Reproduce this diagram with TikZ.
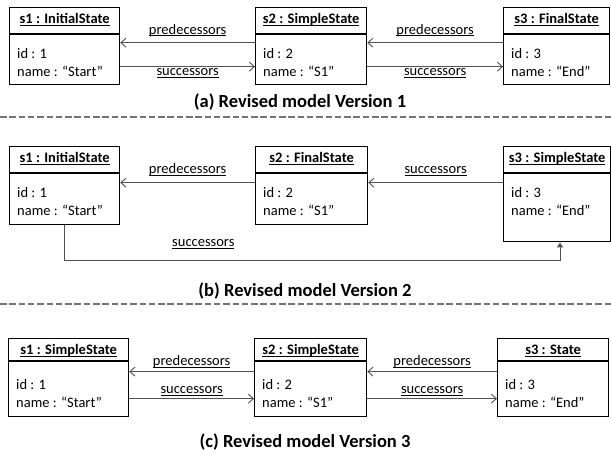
\documentclass[tikz,border=0pt]{standalone}
\usepackage{fontspec}
\setmainfont{Carlito}
\usetikzlibrary{arrows.meta}
\newcommand\ulx[1]{\underline{\smash{#1}}}
\newcommand\umlobj[8]{%
  \node[objbox, minimum width=#3pt, minimum height=#4pt] (#1) at #2 {};
  \draw[hdrline] ([yshift=-#5pt]#1.north west) -- ([yshift=-#5pt]#1.north east);
  \node[ttl] (#1t) at ([yshift=-16.5pt]#1.north) {\ulx{#6}};
  \node[attr] (#1i) at ([xshift=8pt,yshift=-51.5pt]#1.north west) {id : #7};
  \node[attr] (#1n) at ([xshift=8pt,yshift=-69.5pt]#1.north west) {name : #8};
}
\begin{document}
\begin{tikzpicture}[x=1pt,y=-1pt,
  font=\fontsize{14.5}{17}\selectfont,
  objbox/.style={draw, line width=1.3pt, inner sep=0pt, anchor=north west},
  hdrline/.style={line width=1.3pt},
  ttl/.style={font=\fontsize{14.5}{17}\selectfont\bfseries, anchor=base, inner sep=0pt},
  attr/.style={anchor=base west, inner sep=0pt},
  conn/.style={draw=black!68, line width=0.9pt},
  openarr/.style={-{Straight Barb[length=5pt,width=9pt]}},
  lbl/.style={anchor=base, inner sep=0pt},
  captxt/.style={font=\fontsize{18.5}{21}\selectfont\bfseries, anchor=base, inner sep=0pt},
  divider/.style={draw=black!55, line width=2pt, dash pattern=on 6.5pt off 2.8pt}
]
\useasboundingbox (0,0) rectangle (611,454);
% ---------- (a)
\umlobj{s1a}{(9,7)}{110}{77}{27}{s1 : InitialState}{1}{“Start”}
\umlobj{s2a}{(255,7)}{111}{77}{27}{s2 : SimpleState}{2}{“S1”}
\umlobj{s3a}{(503,7)}{106}{77}{27}{s3 : FinalState}{3}{“End”}
\draw[conn,openarr] ([yshift=3.5pt]s2a.west) -- node[lbl,yshift=8.5pt]{\ulx{predecessors}} ([yshift=3.5pt]s1a.east);
\draw[conn,openarr] ([yshift=-20.5pt]s1a.east) -- node[lbl,yshift=-9pt]{\ulx{successors}} ([yshift=-20.5pt]s2a.west);
\draw[conn,openarr] ([yshift=3.5pt]s3a.west) -- node[lbl,yshift=8.5pt]{\ulx{predecessors}} ([yshift=3.5pt]s2a.east);
\draw[conn,openarr] ([yshift=-20.5pt]s2a.east) -- node[lbl,yshift=-9pt]{\ulx{successors}} ([yshift=-20.5pt]s3a.west);
\node[captxt] (capa) at (300,108) {(a) Revised model Version 1};
\draw[divider] (0,117) -- (611,117);
% ---------- (b)
\umlobj{s1b}{(9,146)}{110}{78}{27}{s1 : InitialState}{1}{“Start”}
\umlobj{s2b}{(255,146)}{112}{78}{27}{s2 : FinalState}{2}{“S1”}
\umlobj{s3b}{(503,146)}{107}{95}{27}{s3 : SimpleState}{3}{“End”}
\draw[conn,openarr] ([yshift=3pt]s2b.west) -- node[lbl,yshift=9pt]{\ulx{predecessors}} ([yshift=3pt]s1b.east);
\draw[conn,openarr] ([yshift=11.5pt]s3b.west) -- node[lbl,yshift=9pt]{\ulx{successors}} ([yshift=3pt]s2b.east);
\coordinate (bendb) at (560,260);
\draw[conn,-{Latex[length=5pt,width=7pt]}] (s1b.south) |- node[lbl,pos=0.64,yshift=13pt]{\ulx{successors}} (bendb) -- (bendb |- s3b.south);
\node[captxt] (capb) at (305,297) {(b) Revised model Version 2};
\draw[divider] (0,304) -- (611,304);
% ---------- (c)
\umlobj{s1c}{(8,338)}{120}{78}{23}{s1 : SimpleState}{1}{“Start”}
\umlobj{s2c}{(254,338)}{112}{78}{23}{s2 : SimpleState}{2}{“S1”}
\umlobj{s3c}{(497,338)}{111}{78}{23}{s3 : State}{3}{“End”}
\draw[conn,openarr] ([yshift=6pt]s2c.west) -- node[lbl,yshift=6pt]{\ulx{predecessors}} ([yshift=6pt]s1c.east);
\draw[conn,openarr] ([yshift=-21pt]s1c.east) -- node[lbl,yshift=5pt]{\ulx{successors}} ([yshift=-21pt]s2c.west);
\draw[conn,openarr] ([yshift=6pt]s3c.west) -- node[lbl,yshift=6pt]{\ulx{predecessors}} ([yshift=6pt]s2c.east);
\draw[conn,openarr] ([yshift=-21pt]s2c.east) -- node[lbl,yshift=5pt]{\ulx{successors}} ([yshift=-21pt]s3c.west);
\node[captxt] (capc) at (305,447) {(c) Revised model Version 3};
\end{tikzpicture}
\end{document}
